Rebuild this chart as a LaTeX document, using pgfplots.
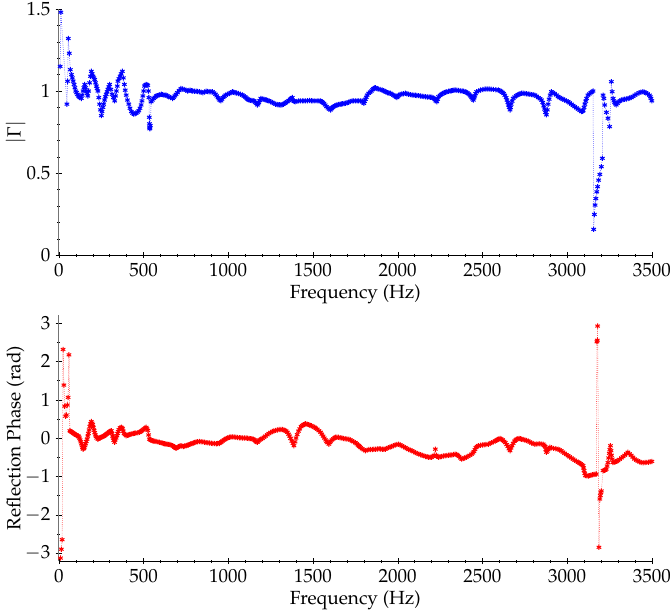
\documentclass[border=0pt]{standalone}
\usepackage[T1]{fontenc}
\usepackage{mathpazo}
\usepackage{pgfplots}
\pgfplotsset{compat=1.18}
\pgfplotsset{
  myax/.style={
    scale only axis,
    width=386.75pt,
    height=160.55pt,
    font=\fontsize{12.4}{14}\selectfont,
    axis lines=left,
    axis line style={-},
    y axis line style={black!55},
    xmin=0, xmax=3500,
    xtick={0,500,...,3500},
    minor x tick num=4,
    x tick label style={/pgf/number format/set thousands separator={}, inner xsep=1pt},
    tick align=center,
    major tick length=4pt,
    minor tick length=2pt,
    tick style={black},
    xlabel={Frequency (Hz)},
    xlabel style={at={(axis description cs:0.5,0)}, anchor=center, yshift=-25.4pt},
    ylabel style={at={(axis description cs:-0.073,0.5)}, anchor=center},
    clip=true,
  },
  myplot/.style={densely dotted, line width=0.35pt, mark=asterisk, mark size=1.7pt, mark options={solid, line width=0.65pt}},
}
\begin{document}
\begin{tikzpicture}
\begin{axis}[myax, ymin=0, ymax=1.5, ytick={0,0.5,1,1.5}, minor y tick num=4,
  ylabel={$|\Gamma|$}]
\addplot[blue, myplot] coordinates {
(8,1.15)(12,1.48)(48,0.92)(52,1.06)(56,1.32)(62,1.23)(68,1.13)
(75,1.10)(80,1.08)(85,1.06)(90,1.04)(95,1.02)(100,1.0)(105,0.99)(110,0.98)(115,0.97)(120,0.965)(125,0.96)(133,0.955)(138,0.975)(143,1.0)(148,1.02)(153,1.04)(158,1.02)(162,1.0)(167,0.985)(171,0.97)(176,1.0)(182,1.05)(187,1.09)(192,1.12)(197,1.105)(202,1.09)(207,1.08)(212,1.07)(217,1.05)(222,1.03)(226,1.015)(231,1.0)(236,0.96)(241,0.92)(246,0.885)(251,0.85)(255,0.875)(260,0.9)(265,0.92)(270,0.945)(275,0.965)(280,0.98)(285,0.995)(290,1.01)(295,1.025)(300,1.04)(307,1.01)(315,0.98)(322,0.96)(330,0.94)(335,0.97)(340,1.0)(345,1.03)(349,1.06)(355,1.075)(362,1.09)(368,1.105)(375,1.12)(381,1.08)(387,1.04)(392,1.005)(398,0.975)(405,0.945)(413,0.92)(420,0.895)(428,0.875)(435,0.865)(442,0.86)(450,0.862)(457,0.865)(465,0.872)(472,0.88)(479,0.895)(486,0.915)(491,0.94)(496,0.97)(501,1.0)(506,1.03)(510,1.036)(515,1.04)(520,1.038)(525,1.035)(529,1.0)(532,0.96)(534,0.84)(535,0.80)(536,0.78)(537,0.77)(538,0.775)(540,0.79)(545,0.935)
(552,0.945)(560,0.955)(567,0.962)(575,0.97)(582,0.972)(590,0.975)(597,0.978)(605,0.98)(612,0.978)(620,0.975)(627,0.975)(633,0.975)(641,0.97)(650,0.965)(660,0.96)(672,0.955)(678,0.962)(685,0.97)(692,0.98)(700,0.99)(710,1.003)(721,1.015)(730,1.012)(740,1.01)(750,1.005)(760,1.0)(767,1.003)(775,1.005)(782,1.002)(790,1.0)(800,0.999)(810,0.998)(820,0.997)(829,0.996)(840,0.993)(850,0.99)(860,0.994)(869,0.998)(878,0.997)(887,0.996)(897,0.996)(907,0.996)(916,0.988)(925,0.98)(932,0.97)(940,0.96)(945,0.952)(950,0.945)(957,0.94)(963,0.95)(970,0.96)(977,0.968)(985,0.975)(995,0.98)(1006,0.985)
(1015,0.99)(1024,0.996)(1032,0.993)(1040,0.99)(1050,0.988)(1060,0.985)(1071,0.98)(1083,0.976)(1091,0.97)(1100,0.965)(1106,0.958)(1112,0.952)(1118,0.948)(1123,0.945)(1131,0.943)(1140,0.942)(1147,0.941)(1153,0.94)(1160,0.932)(1165,0.925)(1172,0.915)(1176,0.922)(1180,0.93)(1186,0.942)(1192,0.955)(1200,0.952)(1210,0.95)(1218,0.947)(1225,0.945)(1233,0.942)(1241,0.94)(1250,0.935)(1260,0.93)(1270,0.925)(1280,0.92)(1288,0.918)(1295,0.917)(1303,0.916)(1310,0.915)(1318,0.917)(1325,0.92)(1333,0.925)(1340,0.93)(1349,0.935)(1357,0.942)(1365,0.95)(1372,0.955)(1378,0.96)(1385,0.94)(1390,0.937)(1395,0.935)(1405,0.937)(1415,0.94)(1426,0.94)(1437,0.94)(1447,0.94)(1457,0.94)(1468,0.941)(1480,0.942)(1490,0.941)(1500,0.94)
(1512,0.94)(1525,0.94)(1535,0.94)(1545,0.94)(1551,0.935)(1557,0.93)(1565,0.925)(1572,0.915)(1580,0.905)(1588,0.897)(1595,0.89)(1604,0.885)(1610,0.893)(1615,0.9)(1622,0.905)(1630,0.91)(1637,0.913)(1643,0.915)(1651,0.918)(1660,0.92)(1667,0.921)(1675,0.922)(1684,0.924)(1692,0.925)(1701,0.928)(1710,0.932)(1720,0.936)(1731,0.94)(1740,0.94)(1750,0.94)(1760,0.94)(1770,0.94)(1780,0.94)(1790,0.94)(1795,0.932)(1800,0.925)(1805,0.937)(1810,0.95)(1815,0.962)(1820,0.975)(1829,0.986)(1837,0.993)(1845,1.0)(1852,1.008)(1858,1.015)(1864,1.018)(1869,1.02)(1877,1.016)(1885,1.012)(1896,1.009)(1908,1.006)(1916,1.002)(1925,0.998)(1932,0.994)(1940,0.99)(1948,0.988)(1957,0.986)(1966,0.98)(1975,0.975)(1982,0.97)(1990,0.965)(1996,0.96)(2001,0.968)(2006,0.975)
(2015,0.979)(2025,0.982)(2035,0.984)(2045,0.986)(2055,0.983)(2065,0.98)(2075,0.978)(2085,0.976)(2095,0.975)(2105,0.974)(2114,0.973)(2123,0.972)(2134,0.97)(2145,0.968)(2155,0.966)(2165,0.965)(2175,0.964)(2185,0.963)(2194,0.962)(2202,0.962)(2209,0.958)(2215,0.955)(2220,0.948)(2225,0.94)(2231,0.935)(2236,0.95)(2241,0.966)(2250,0.973)(2258,0.98)(2266,0.985)(2275,0.99)(2282,0.993)(2290,0.996)(2300,0.998)(2310,1.0)(2318,1.002)(2325,1.004)(2332,1.005)(2339,1.006)(2350,1.005)(2360,1.003)(2370,1.001)(2380,1.0)(2389,0.998)(2398,0.996)(2405,0.992)(2412,0.988)(2420,0.982)(2427,0.975)(2432,0.968)(2437,0.96)(2442,0.952)(2447,0.945)(2451,0.958)(2455,0.97)(2460,0.984)(2466,0.996)(2478,1.001)(2490,1.006)(2503,1.009)(2516,1.012)
(2528,1.012)(2540,1.012)(2552,1.011)(2565,1.01)(2580,1.008)(2594,1.006)(2602,1.002)(2610,0.998)(2618,0.992)(2625,0.985)(2632,0.974)(2640,0.96)(2645,0.945)(2650,0.93)(2654,0.915)(2658,0.9)(2663,0.885)(2666,0.9)(2670,0.92)(2676,0.938)(2682,0.955)(2691,0.964)(2700,0.972)(2708,0.976)(2715,0.98)(2723,0.983)(2731,0.986)(2740,0.986)(2750,0.985)(2760,0.984)(2770,0.982)(2780,0.98)(2790,0.978)(2800,0.977)(2810,0.975)(2820,0.968)(2830,0.96)(2840,0.953)(2849,0.945)(2856,0.93)(2862,0.91)(2867,0.89)(2872,0.87)(2878,0.855)(2883,0.885)(2888,0.92)(2894,0.95)(2900,0.975)(2907,0.996)(2916,0.99)(2925,0.985)(2936,0.976)(2947,0.966)(2956,0.96)(2965,0.955)(2975,0.95)(2985,0.945)(2995,0.94)(3006,0.935)
(3015,0.928)(3025,0.92)(3035,0.912)(3045,0.905)(3055,0.897)(3065,0.89)(3075,0.882)(3084,0.875)(3090,0.877)(3095,0.88)(3100,0.9)(3105,0.92)(3110,0.938)(3115,0.955)(3123,0.975)(3131,0.982)(3140,0.99)(3147,0.995)(3153,1.0)
(3157,0.157)(3161,0.248)(3165,0.305)(3170,0.345)(3175,0.386)(3180,0.417)(3186,0.457)(3193,0.492)(3202,0.539)(3208,0.59)(3212,0.975)(3217,0.955)(3222,0.915)(3232,0.87)(3241,0.834)(3251,0.783)(3261,1.057)(3266,0.996)
(3272,0.955)(3276,0.94)(3280,0.93)(3285,0.922)(3290,0.915)(3297,0.925)(3305,0.935)(3312,0.94)(3320,0.945)(3330,0.948)(3340,0.95)(3350,0.952)(3360,0.955)(3369,0.957)(3378,0.96)(3389,0.967)(3400,0.975)(3412,0.982)(3425,0.99)(3436,0.993)(3447,0.996)(3456,0.993)(3465,0.99)(3475,0.983)(3486,0.975)(3491,0.965)(3495,0.955)(3500,0.94)
};
\end{axis}
\begin{axis}[myax, at={(0,-39pt)}, anchor=north west, ymin=-3.21, ymax=3.21,
  ytick={-3,-2,...,3}, minor y tick num=1, ylabel={Reflection Phase (rad)}]
\addplot[red, myplot] coordinates {
(10,-3.13)(15,-2.9)(20,-2.65)(25,2.31)(30,1.38)(35,0.83)(40,0.57)(45,0.6)(50,0.86)(55,1.06)(60,2.17)
(65,0.19)(70,0.175)(75,0.16)(80,0.145)(85,0.13)(90,0.115)(95,0.1)(100,0.085)(105,0.07)(114,0.06)(118,0.03)(122,0.0)(126,-0.05)(130,-0.1)(134,-0.15)(137,-0.2)(140,-0.25)(143,-0.29)(147,-0.27)(150,-0.25)(154,-0.2)(158,-0.15)(162,-0.09)(167,-0.03)(171,0.05)(175,0.12)(179,0.21)(183,0.3)(187,0.37)(192,0.43)(196,0.39)(200,0.35)(204,0.28)(208,0.2)(212,0.14)(216,0.08)(220,0.04)(224,0.0)(231,-0.03)(235,-0.015)(240,0.0)(245,0.01)(250,0.02)(255,0.03)(260,0.04)(265,0.05)(270,0.06)(275,0.08)(280,0.1)(285,0.115)(290,0.13)(295,0.15)(300,0.17)(305,0.18)(310,0.19)(314,0.12)(318,0.05)(321,0.0)(324,-0.06)(329,-0.11)(333,-0.05)(338,0.0)(343,0.06)(347,0.12)(351,0.17)(355,0.22)(362,0.27)(369,0.28)(373,0.26)(376,0.24)(380,0.18)(385,0.12)(391,0.09)(398,0.06)(405,0.07)(412,0.08)(418,0.09)(425,0.1)(432,0.11)(440,0.12)(447,0.125)(455,0.13)(466,0.14)(476,0.15)(483,0.17)(490,0.19)(497,0.215)(503,0.24)(510,0.26)(516,0.28)(520,0.24)(525,0.2)(530,0.08)(535,-0.03)(540,-0.045)(545,-0.06)
(552,-0.07)(560,-0.08)(567,-0.085)(575,-0.09)(584,-0.1)(594,-0.11)(602,-0.12)(610,-0.13)(617,-0.14)(625,-0.15)(632,-0.155)(640,-0.16)(647,-0.165)(655,-0.17)(663,-0.185)(672,-0.2)(678,-0.22)(683,-0.24)(688,-0.255)(692,-0.27)(698,-0.25)(705,-0.23)(712,-0.215)(720,-0.2)(727,-0.21)(735,-0.22)(743,-0.21)(751,-0.2)(758,-0.19)(765,-0.18)(772,-0.165)(780,-0.15)(787,-0.14)(795,-0.13)(802,-0.115)(810,-0.1)(820,-0.095)(829,-0.09)(840,-0.095)(850,-0.1)(860,-0.11)(870,-0.12)(880,-0.125)(890,-0.13)(900,-0.135)(910,-0.14)(920,-0.145)(930,-0.15)(938,-0.145)(947,-0.14)(953,-0.12)(960,-0.1)(967,-0.075)(975,-0.05)(982,-0.03)(990,-0.01)(998,0.005)(1006,0.02)
(1015,0.025)(1025,0.03)(1035,0.025)(1045,0.02)(1055,0.015)(1065,0.01)(1075,0.005)(1085,0.0)(1095,0.0)(1105,0.0)(1114,-0.005)(1123,-0.01)(1131,-0.015)(1140,-0.02)(1148,-0.03)(1155,-0.05)(1160,-0.075)(1165,-0.1)(1172,-0.11)(1178,-0.08)(1185,-0.05)(1193,-0.03)(1202,-0.01)(1211,0.02)(1220,0.05)(1230,0.085)(1240,0.12)(1250,0.145)(1260,0.17)(1270,0.185)(1280,0.2)(1290,0.21)(1300,0.22)(1310,0.222)(1320,0.22)(1328,0.21)(1335,0.2)(1342,0.18)(1349,0.15)(1356,0.1)(1362,0.05)(1368,-0.01)(1375,-0.08)(1382,-0.14)(1388,-0.2)(1394,-0.1)(1400,0.0)(1407,0.09)(1415,0.18)(1422,0.24)(1430,0.3)(1437,0.325)(1445,0.35)(1451,0.36)(1457,0.37)(1466,0.36)(1475,0.35)(1482,0.335)(1490,0.32)(1500,0.3)
(1510,0.28)(1517,0.255)(1525,0.23)(1535,0.19)(1545,0.15)(1552,0.1)(1560,0.05)(1567,0.0)(1575,-0.05)(1580,-0.085)(1585,-0.12)(1594,-0.16)(1600,-0.12)(1605,-0.08)(1612,-0.05)(1620,-0.02)(1627,0.0)(1633,0.02)(1641,0.02)(1650,0.02)(1660,0.01)(1670,0.0)(1680,-0.01)(1690,-0.02)(1700,-0.025)(1712,-0.03)(1721,-0.05)(1730,-0.07)(1740,-0.095)(1750,-0.12)(1758,-0.15)(1765,-0.18)(1770,-0.2)(1775,-0.22)(1782,-0.25)(1790,-0.28)(1800,-0.305)(1810,-0.33)(1820,-0.315)(1830,-0.3)(1840,-0.3)(1850,-0.3)(1860,-0.295)(1870,-0.29)(1880,-0.285)(1890,-0.28)(1900,-0.285)(1910,-0.29)(1918,-0.29)(1927,-0.29)(1936,-0.27)(1945,-0.25)(1955,-0.235)(1965,-0.22)(1975,-0.2)(1985,-0.18)(1995,-0.17)(2006,-0.16)
(2015,-0.18)(2025,-0.2)(2035,-0.225)(2045,-0.25)(2055,-0.275)(2065,-0.3)(2075,-0.315)(2084,-0.33)(2095,-0.355)(2105,-0.38)(2115,-0.4)(2125,-0.42)(2135,-0.435)(2145,-0.45)(2155,-0.465)(2165,-0.48)(2174,-0.49)(2182,-0.5)(2191,-0.5)(2200,-0.5)(2208,-0.48)(2215,-0.45)(2222,-0.29)(2228,-0.45)(2234,-0.48)(2241,-0.5)(2250,-0.49)(2260,-0.48)(2270,-0.47)(2280,-0.46)(2290,-0.455)(2300,-0.45)(2310,-0.445)(2320,-0.44)(2330,-0.43)(2339,-0.42)(2347,-0.43)(2355,-0.45)(2362,-0.48)(2370,-0.52)(2378,-0.55)(2386,-0.535)(2395,-0.52)(2405,-0.5)(2415,-0.48)(2426,-0.45)(2437,-0.42)(2444,-0.39)(2450,-0.35)(2456,-0.3)(2462,-0.25)(2469,-0.22)(2476,-0.2)(2488,-0.19)(2500,-0.18)
(2510,-0.175)(2520,-0.17)(2535,-0.16)(2545,-0.14)(2555,-0.12)(2565,-0.1)(2575,-0.08)(2583,-0.06)(2590,-0.04)(2597,-0.025)(2604,-0.01)(2612,-0.03)(2620,-0.05)(2628,-0.085)(2635,-0.12)(2643,-0.17)(2650,-0.22)(2657,-0.28)(2663,-0.33)(2669,-0.26)(2675,-0.2)(2682,-0.14)(2690,-0.08)(2696,-0.055)(2702,-0.03)(2710,-0.02)(2717,-0.01)(2724,-0.02)(2731,-0.03)(2740,-0.04)(2750,-0.05)(2760,-0.065)(2770,-0.08)(2780,-0.105)(2790,-0.13)(2800,-0.145)(2810,-0.16)(2822,-0.155)(2835,-0.15)(2847,-0.155)(2859,-0.16)(2865,-0.19)(2870,-0.22)(2874,-0.3)(2878,-0.37)(2883,-0.34)(2888,-0.3)(2893,-0.27)(2898,-0.24)(2909,-0.255)(2920,-0.27)(2933,-0.28)(2947,-0.29)(2956,-0.31)(2965,-0.33)(2975,-0.365)(2985,-0.4)(2995,-0.43)(3006,-0.46)
(3015,-0.49)(3025,-0.52)(3035,-0.55)(3045,-0.58)(3055,-0.605)(3065,-0.63)(3072,-0.65)(3080,-0.67)(3087,-0.695)(3094,-0.72)(3097,-0.78)(3100,-0.85)(3104,-0.92)(3108,-0.98)(3116,-0.985)(3125,-0.99)(3132,-0.98)(3140,-0.97)(3149,-0.96)(3158,-0.95)(3165,-0.945)(3172,-0.94)
(3176,2.51)(3178,2.55)(3180,2.92)(3188,-2.85)(3193,-1.59)(3196,-1.5)(3199,-1.42)(3202,-1.38)
(3212,-0.85)(3217,-0.845)(3222,-0.84)(3226,-0.83)(3231,-0.81)(3236,-0.73)(3241,-0.64)(3245,-0.52)(3249,-0.4)(3252,-0.3)(3256,-0.2)(3259,-0.33)(3262,-0.45)(3266,-0.55)(3270,-0.64)(3277,-0.63)(3285,-0.62)(3292,-0.605)(3300,-0.59)(3310,-0.555)(3320,-0.52)(3330,-0.485)(3340,-0.45)(3350,-0.41)(3359,-0.37)(3368,-0.41)(3378,-0.45)(3388,-0.5)(3398,-0.55)(3408,-0.575)(3418,-0.6)(3428,-0.62)(3437,-0.64)(3448,-0.645)(3460,-0.64)(3470,-0.635)(3480,-0.63)(3490,-0.62)(3500,-0.61)
};
\end{axis}
\pgfresetboundingbox
\path[use as bounding box] (-38.35pt,-234pt) rectangle (398.6pt,166.4pt);
\end{tikzpicture}
\end{document}
